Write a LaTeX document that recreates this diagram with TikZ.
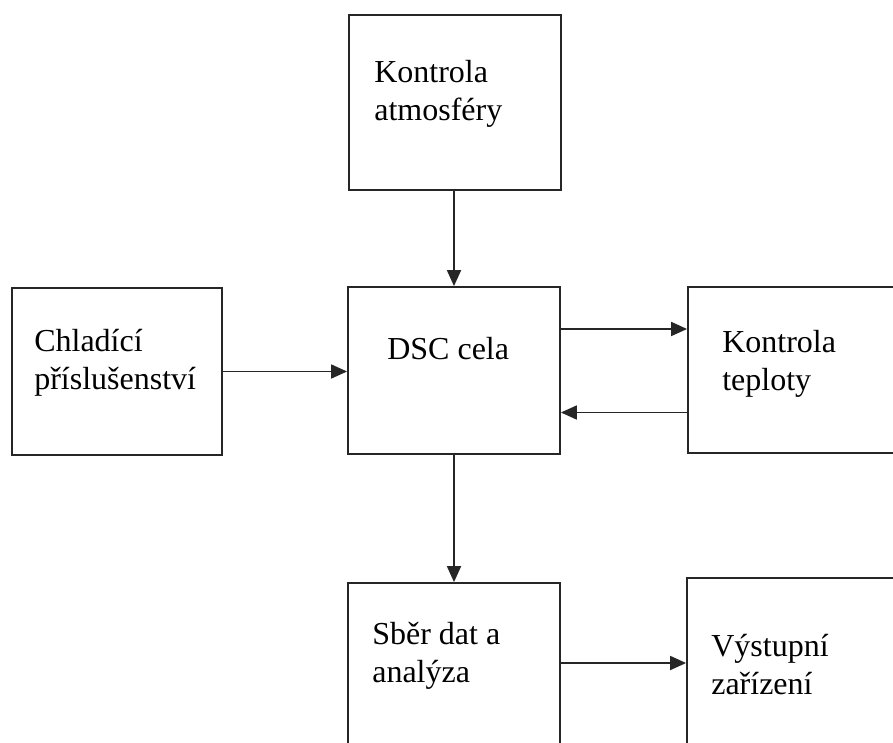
\documentclass[tikz,border=0pt]{standalone}
\usepackage{fontspec}
\setmainfont{Liberation Serif}
\usetikzlibrary{positioning, arrows.meta}

\begin{document}
\begin{tikzpicture}[
		x=1pt, y=1pt,
		% Style for the blocks
		blok/.style={draw=black!85, line width=1.8pt, rectangle, inner sep=0pt},
		% Text inside the blocks
		popis/.style={font=\fontsize{32}{38}\selectfont, align=left, inner sep=0pt, anchor=north west},
		% Connectors
		tok/.style={draw=black!85, line width=1.8pt, -{Triangle[length=16pt,width=14pt]}}
		]

	\useasboundingbox (0,0) rectangle (893,742);
	\clip (0,0) rectangle (893,742);

	% ==============================================================================
	% BLOCKS
	% ==============================================================================
	\node[blok, minimum width=212, minimum height=175] (atmo) at (455, 639.5) {};
	\node[blok, minimum width=212, minimum height=167] (dsc) at (454, 371.5) {};
	\node[blok, minimum width=210, minimum height=167] (chlad) at (117, 370.5) {};
	\node[blok, minimum width=232, minimum height=166] (tepl) at (804, 372) {};
	\node[blok, minimum width=212, minimum height=217] (sber) at (454, 50.5) {};
	\node[blok, minimum width=233, minimum height=222] (vystup) at (803.5, 53) {};

	% Texts
	\node[popis, below right=46pt and 26pt of atmo.north west] (atmo-t) {Kontrola\\atmosféry};
	\node[popis, below right=51pt and 40pt of dsc.north west] (dsc-t) {DSC cela};
	\node[popis, below right=42pt and 23pt of chlad.north west] (chlad-t) {Chladící\\příslušenství};
	\node[popis, below right=44pt and 35pt of tepl.north west] (tepl-t) {Kontrola\\teploty};
	\node[popis, below right=40pt and 25pt of sber.north west] (sber-t) {Sběr dat a\\analýza};
	\node[popis, below right=57pt and 25pt of vystup.north west] (vystup-t) {Výstupní\\zařízení};

	% ==============================================================================
	% CONNECTORS
	% ==============================================================================
	\draw[tok] (atmo.south -| dsc.north) -- (dsc.north);
	\draw[tok] (chlad.east) -- (chlad.east -| dsc.west);
	\draw[tok] ([yshift=41.5pt]dsc.east) -- ([yshift=41.5pt]dsc.east -| tepl.west);
	\draw[tok] ([yshift=-42.5pt]tepl.west) -- ([yshift=-42.5pt]tepl.west -| dsc.east);
	\draw[tok] (dsc.south) -- (sber.north);
	\draw[tok] (sber.east |- 0,79) -- (vystup.west |- 0,79);
\end{tikzpicture}
\end{document}
